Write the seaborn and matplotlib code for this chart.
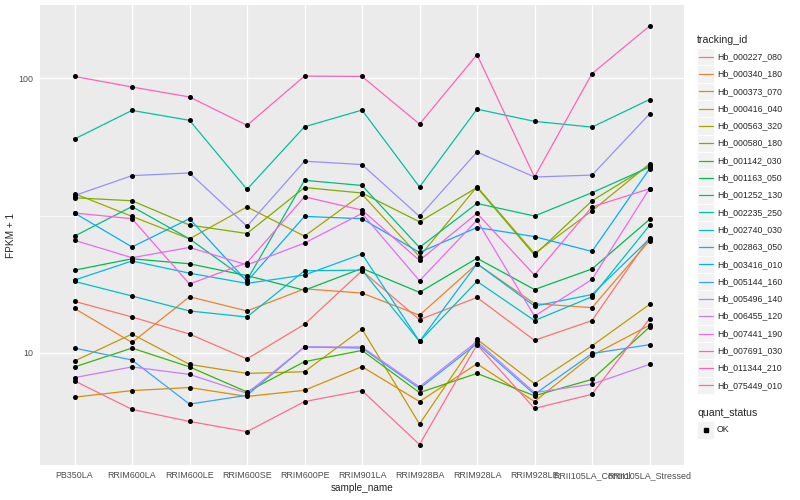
import numpy as np
import pandas as pd
import matplotlib
matplotlib.use("Agg")
import matplotlib.pyplot as plt
import seaborn as sns
from matplotlib.lines import Line2D
from matplotlib.patches import Rectangle
from matplotlib.ticker import FixedLocator, NullFormatter

# DATA (FPKM + 1)
samples = ["PB350LA", "RRIM600LA", "RRIM600LE", "RRIM600SE", "RRIM600PE", "RRIM901LA",
           "RRIM928BA", "RRIM928LA", "RRIM928LE", "RRII105LA_Control", "RRII105LA_Stressed"]

Hb_000227_080 = [15.4, 13.5, 11.7, 9.5, 12.7, 19.9, 13.2, 15.9, 11.1, 13.1, 26.3]
Hb_000340_180 = [14.5, 10.9, 16.0, 14.2, 17.1, 16.5, 13.7, 21.1, 15.1, 14.6, 25.6]
Hb_000373_070 = [6.89, 7.28, 7.47, 6.93, 7.30, 8.90, 6.64, 9.12, 6.64, 9.78, 12.6]
Hb_000416_040 = [9.33, 11.7, 9.07, 8.41, 8.53, 12.2, 5.50, 11.2, 7.72, 10.6, 15.0]
Hb_000563_320 = [38.0, 31.4, 26.0, 34.0, 26.6, 37.8, 22.4, 40.3, 23.0, 32.9, 48.8]
Hb_000580_180 = [36.7, 35.8, 29.2, 27.2, 40.0, 38.2, 30.0, 40.0, 22.7, 35.8, 48.1]
Hb_001142_030 = [8.88, 10.4, 8.88, 7.20, 9.28, 10.2, 7.16, 8.41, 6.97, 8.00, 12.4]
Hb_001163_050 = [20.0, 22.0, 21.1, 19.1, 16.9, 20.3, 16.6, 22.1, 17.0, 20.2, 30.6]
Hb_001252_130 = [26.6, 34.1, 26.0, 18.4, 42.5, 40.7, 24.2, 35.0, 31.5, 38.3, 47.5]
Hb_002235_250 = [60.1, 76.4, 70.3, 39.4, 66.6, 76.6, 40.2, 77.2, 69.7, 66.4, 83.7]
Hb_002740_030 = [18.2, 16.1, 14.2, 13.5, 19.9, 20.0, 11.0, 18.2, 13.1, 16.0, 29.1]
Hb_002863_050 = [18.4, 21.6, 19.5, 17.9, 19.2, 22.9, 11.0, 21.1, 14.8, 16.3, 26.0]
Hb_003416_010 = [32.3, 24.3, 30.8, 18.2, 31.4, 30.8, 23.2, 28.6, 26.5, 23.4, 46.8]
Hb_005144_160 = [10.4, 9.41, 6.50, 7.00, 10.5, 10.4, 7.41, 10.8, 7.06, 9.94, 10.7]
Hb_005496_140 = [37.4, 44.2, 45.2, 28.9, 49.9, 48.5, 31.4, 53.9, 43.7, 44.4, 74.1]
Hb_006455_120 = [8.12, 8.88, 8.34, 7.12, 10.5, 10.5, 7.51, 11.0, 7.16, 7.68, 9.07]
Hb_007441_190 = [25.7, 22.2, 24.2, 20.9, 25.1, 32.2, 18.3, 30.4, 13.6, 18.5, 39.6]
Hb_007691_030 = [32.3, 30.8, 17.8, 21.3, 37.0, 33.1, 21.7, 32.2, 19.2, 34.0, 39.6]
Hb_011344_210 = [101.6, 93.0, 85.5, 67.4, 101.9, 101.6, 68.1, 122.0, 43.7, 104.0, 155.0]
Hb_075449_010 = [7.90, 6.22, 5.62, 5.16, 6.64, 7.28, 4.63, 10.7, 6.27, 7.06, 13.3]

tracking_ids = ["Hb_000227_080", "Hb_000340_180", "Hb_000373_070", "Hb_000416_040",
                "Hb_000563_320", "Hb_000580_180", "Hb_001142_030", "Hb_001163_050",
                "Hb_001252_130", "Hb_002235_250", "Hb_002740_030", "Hb_002863_050",
                "Hb_003416_010", "Hb_005144_160", "Hb_005496_140", "Hb_006455_120",
                "Hb_007441_190", "Hb_007691_030", "Hb_011344_210", "Hb_075449_010"]
series = [Hb_000227_080, Hb_000340_180, Hb_000373_070, Hb_000416_040, Hb_000563_320,
          Hb_000580_180, Hb_001142_030, Hb_001163_050, Hb_001252_130, Hb_002235_250,
          Hb_002740_030, Hb_002863_050, Hb_003416_010, Hb_005144_160, Hb_005496_140,
          Hb_006455_120, Hb_007441_190, Hb_007691_030, Hb_011344_210, Hb_075449_010]

# ggplot default hue palette for 20 levels
colors = ["#F8766D", "#EA8331", "#D89000", "#C09B00", "#A3A500", "#7CAE00", "#39B600",
          "#00BB4E", "#00BF7D", "#00C1A3", "#00BFC4", "#00BAE0", "#00B0F6", "#35A2FF",
          "#9590FF", "#C77CFF", "#E76BF3", "#FA62DB", "#FF62BC", "#FF6C91"]

rows = []
for tid, vals in zip(tracking_ids, series):
    for s, v in zip(samples, vals):
        rows.append({"sample_name": s, "tracking_id": tid, "fpkm": v, "quant_status": "OK"})
df = pd.DataFrame(rows)

W, H = 800, 500
sns.set_theme(style="whitegrid")
plt.rcParams["font.family"] = ["Liberation Sans", "DejaVu Sans"]

fig = plt.figure(figsize=(8, 5), dpi=100)
ax = fig.add_axes([40 / W, 1 - 465 / H, 644 / W, 460 / H])
ax.set_facecolor("#EBEBEB")
ax.set_yscale("log")

sns.lineplot(data=df, x="sample_name", y="fpkm", hue="tracking_id", hue_order=tracking_ids,
             palette=colors, sort=False, estimator=None, legend=False, lw=0.9, ax=ax)
sns.scatterplot(data=df, x="sample_name", y="fpkm", color="black", s=13, linewidth=0,
                marker="o", legend=False, ax=ax, zorder=5)

ax.set_xlim(-0.6, len(samples) - 0.4)
ax.set_ylim(3.9, 185)
ax.set_yticks([10, 100])
ax.set_yticklabels(["10", "100"])
ax.yaxis.set_minor_locator(FixedLocator([10 ** 1.5]))
ax.yaxis.set_minor_formatter(NullFormatter())
ax.grid(True, which="major", color="white", lw=0.9)
ax.grid(True, which="minor", axis="y", color="white", lw=0.45)
ax.set_axisbelow(True)
for sp in ax.spines.values():
    sp.set_visible(False)
ax.tick_params(which="major", length=2.5, width=0.6, color="#333333", labelsize=6.4,
               labelcolor="#4D4D4D", pad=2)
ax.tick_params(which="minor", length=0)
ax.set_xlabel("sample_name", fontsize=7.2, labelpad=2)
ax.set_ylabel("FPKM + 1", fontsize=7.2, labelpad=2)

# legend, drawn ggplot style on the right
def fy(y):
    return 1 - y / H

fig.text(697 / W, fy(40), "tracking_id", fontsize=7.6, va="center", ha="left")
y0, step = 56.7, 17.3
for i, (tid, c) in enumerate(zip(tracking_ids, colors)):
    yc = y0 + i * step
    fig.add_artist(Rectangle((697 / W, fy(yc + step / 2)), 17 / W, step / H,
                             transform=fig.transFigure, facecolor="#F2F2F2",
                             edgecolor="white", lw=0.6))
    fig.add_artist(Line2D([698.5 / W, 712.5 / W], [fy(yc), fy(yc)],
                          transform=fig.transFigure, color=c, lw=0.9))
    fig.text(717 / W, fy(yc), tid, fontsize=6.3, va="center", ha="left")

fig.text(697 / W, fy(413), "quant_status", fontsize=7.6, va="center", ha="left")
fig.add_artist(Rectangle((697 / W, fy(430 + step / 2)), 17 / W, step / H,
                         transform=fig.transFigure, facecolor="#F2F2F2",
                         edgecolor="white", lw=0.6))
fig.add_artist(Line2D([705.5 / W], [fy(430)], transform=fig.transFigure, marker="s",
                      markersize=3.0, color="black", lw=0))
fig.text(717 / W, fy(430), "OK", fontsize=6.3, va="center", ha="left")

fig.savefig("out.png", dpi=100, facecolor="white")
